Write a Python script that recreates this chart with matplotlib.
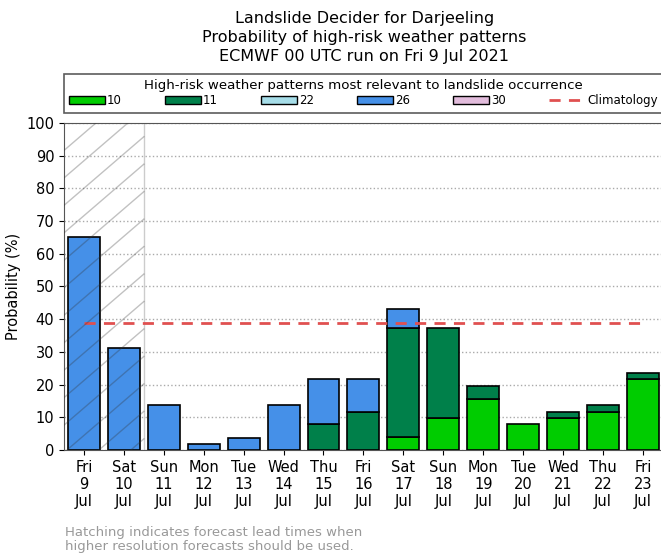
import matplotlib
matplotlib.use('Agg')
import matplotlib.pyplot as plt
import numpy as np
from matplotlib.patches import Patch
from matplotlib.lines import Line2D

days = ['Fri\n9\nJul', 'Sat\n10\nJul', 'Sun\n11\nJul', 'Mon\n12\nJul', 'Tue\n13\nJul',
        'Wed\n14\nJul', 'Thu\n15\nJul', 'Fri\n16\nJul', 'Sat\n17\nJul', 'Sun\n18\nJul',
        'Mon\n19\nJul', 'Tue\n20\nJul', 'Wed\n21\nJul', 'Thu\n22\nJul', 'Fri\n23\nJul']
p10 = [0, 0, 0, 0, 0, 0, 0, 0, 4, 9.7, 15.7, 7.9, 9.7, 11.6, 21.6]
p11 = [0, 0, 0, 0, 0, 0, 7.8, 11.7, 33.2, 27.5, 3.9, 0, 2, 2.2, 2]
p22 = [0] * 15
p26 = [65, 31.3, 13.8, 1.8, 3.8, 13.8, 13.8, 9.9, 5.9, 0, 0, 0, 0, 0, 0]
p30 = [0] * 15
climatology = 38.8
patterns = ['10', '11', '22', '26', '30']
colors = ['#00cc00', '#00804a', '#a6dde8', '#4590e8', '#e2bcdc']

fig = plt.figure(figsize=(6.61, 5.53), dpi=100)
ax = fig.add_axes([0.0968, 0.1863, 0.906, 0.5913])

x = np.arange(len(days))
bottom = np.zeros(len(days))
for vals, col in zip([p10, p11, p22, p26, p30], colors):
    v = np.array(vals, dtype=float)
    m = v > 0
    ax.bar(x[m], v[m], 0.8, bottom=bottom[m], color=col, edgecolor='black',
           linewidth=1.2, zorder=3)
    bottom += v

ax.plot([0, 14], [climatology, climatology], color='#e05050', ls=(0, (4, 3)),
        lw=2, zorder=4)

ax.set_xlim(-0.5, 14.5)
ax.set_ylim(0, 100)
ax.set_yticks(range(0, 101, 10))
ax.set_xticks(x)
ax.set_xticklabels(days, fontsize=10.5)
ax.tick_params(axis='y', labelsize=10.5)
ax.yaxis.grid(True, ls=':', color='#aaaaaa', lw=1, zorder=0)
ax.set_axisbelow(True)
ax.set_ylabel('Probability (%)', fontsize=10.5)
for s in ax.spines.values():
    s.set_color('#555555')

# hatched area for short lead times (x from -0.5 to 1.5)
ax.axvline(1.5, color='#cccccc', lw=1, zorder=1)
k = 10.5  # data units of y per unit of x
x_lo, x_hi = -0.5, 1.5
for c in np.arange(x_lo - 100 / k, x_hi, 0.8):
    xa = max(x_lo, c)
    xb = min(x_hi, c + 100 / k)
    if xb <= xa:
        continue
    ax.plot([xa, xb], [k * (xa - c), k * (xb - c)], color='#333333',
            alpha=0.3, lw=1.0, zorder=5)

handles = [Patch(facecolor=c, edgecolor='black', label=p) for p, c in zip(patterns, colors)]
handles.append(Line2D([0], [0], color='#e05050', ls=(0, (4, 3)), lw=2, label='Climatology'))
leg = fig.legend(handles=handles, ncol=6, loc='lower left', mode='expand',
                 bbox_to_anchor=(0.0968, 0.796, 0.906, 0.068),
                 title='High-risk weather patterns most relevant to landslide occurrence',
                 fontsize=8.5, title_fontsize=9.6, fancybox=False, frameon=True,
                 borderaxespad=0, handlelength=3, handletextpad=0.2,
                 borderpad=0.45, labelspacing=0.2)
leg.get_frame().set_edgecolor('#333333')
leg.get_frame().set_linewidth(1.2)

fig.text(0.551, 0.967, 'Landslide Decider for Darjeeling', ha='center', va='center', fontsize=11.5)
fig.text(0.551, 0.932, 'Probability of high-risk weather patterns', ha='center', va='center', fontsize=11.5)
fig.text(0.551, 0.897, 'ECMWF 00 UTC run on Fri 9 Jul 2021', ha='center', va='center', fontsize=11.5)

fig.text(0.098, 0.024, 'Hatching indicates forecast lead times when\nhigher resolution forecasts should be used.',
         ha='left', va='center', fontsize=9.5, color='#999999', linespacing=1.1)

fig.savefig('out.png', dpi=100)
